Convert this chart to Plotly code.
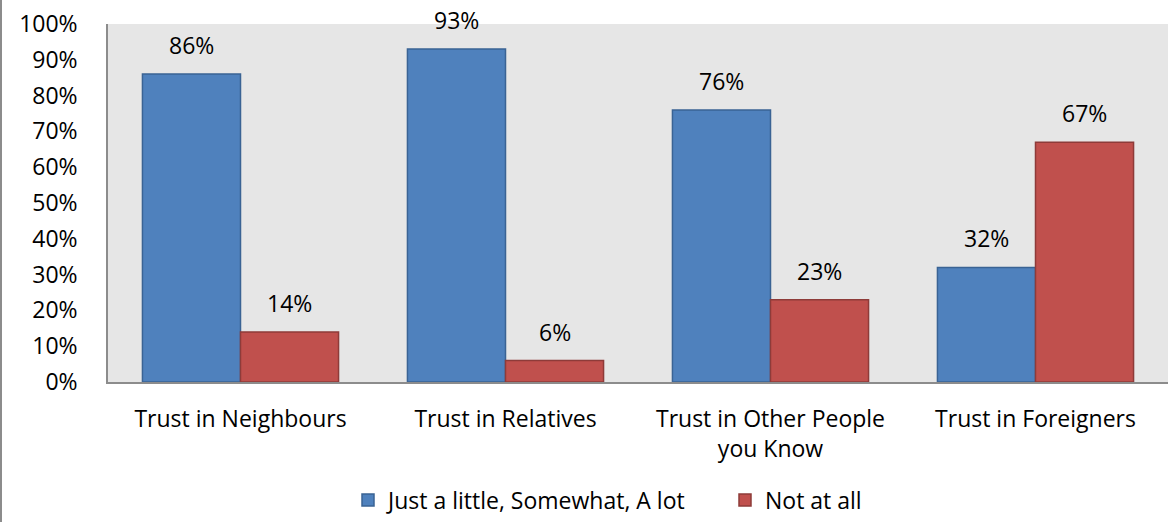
import plotly.graph_objects as go

categories = ["Trust in Neighbours", "Trust in Relatives", "Trust in Other People<br>you Know", "Trust in Foreigners"]
series_names = ["Just a little, Somewhat, A lot", "Not at all"]
trust_values = [86, 93, 76, 32]
not_values = [14, 6, 23, 67]
tick_vals = [0, 10, 20, 30, 40, 50, 60, 70, 80, 90, 100]
tick_text = [f"{v}%" for v in tick_vals]

FONT = "'Open Sans', sans-serif"
FS = 23
fig = go.Figure()
fig.add_trace(go.Bar(x=categories, y=trust_values, name=series_names[0],
                     marker=dict(color="#4F81BD", line=dict(color="#3A6394", width=1.5))))
fig.add_trace(go.Bar(x=categories, y=not_values, name=series_names[1],
                     marker=dict(color="#C0504D", line=dict(color="#8E3B39", width=1.5))))

annotations = []
for cat, v in zip(categories, trust_values):
    annotations.append(dict(x=cat, y=v, xref="x", yref="y", text=f"{v}%", showarrow=False,
                            xshift=-49, yshift=11, yanchor="bottom",
                            font=dict(family=FONT, size=FS, color="#000")))
for cat, v in zip(categories, not_values):
    annotations.append(dict(x=cat, y=v, xref="x", yref="y", text=f"{v}%", showarrow=False,
                            xshift=49, yshift=11, yanchor="bottom",
                            font=dict(family=FONT, size=FS, color="#000")))

fig.update_layout(
    width=1168, height=522,
    margin=dict(l=108, r=0, t=24, b=140, autoexpand=False),
    paper_bgcolor="white", plot_bgcolor="#E6E6E6",
    barmode="group", bargap=0.26, bargroupgap=0,
    font=dict(family=FONT, size=FS, color="#000"),
    annotations=annotations,
    legend=dict(orientation="h", x=(348 - 108) / 1060, xanchor="left", y=-0.33, yanchor="middle",
                font=dict(family=FONT, size=FS), itemwidth=30, traceorder="normal",
                entrywidth=332, entrywidthmode="pixels"),
    shapes=[dict(type="line", xref="paper", yref="paper", x0=-107/1060, x1=-107/1060,
                 y0=-140/358, y1=24/358 + 1, line=dict(color="#8C8C8C", width=2))],
)
fig.update_yaxes(range=[0, 100], tickvals=tick_vals, ticktext=tick_text, showgrid=False,
                 showline=True, linecolor="#8C8C8C", linewidth=1.5, ticks="outside",
                 ticklen=24, tickcolor="rgba(0,0,0,0)", zeroline=False, automargin=False)
fig.update_xaxes(showline=True, linecolor="#8C8C8C", linewidth=1.5, ticks="outside",
                 ticklen=16, tickcolor="rgba(0,0,0,0)", automargin=False)
fig.write_html("out.html", config={"displayModeBar": False},
               post_script="document.body.style.margin='0';document.body.style.padding='0';")
